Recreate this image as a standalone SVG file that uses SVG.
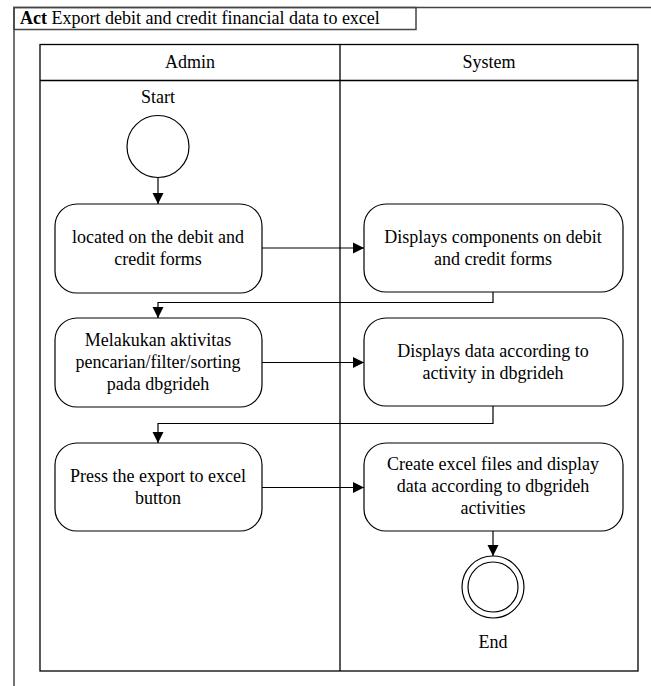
<svg xmlns="http://www.w3.org/2000/svg" width="651" height="686" viewBox="0 0 651 686" font-family="'Liberation Serif', 'Times New Roman', serif" font-size="18">
  <style>
    svg text, svg tspan { font-family: "Liberation Serif", "Times New Roman", serif; font-size: 18px; fill: #000; }
    .frame { fill: none; stroke: #444; stroke-width: 1.5; }
    .lane { fill: none; stroke: #000; stroke-width: 1.3; }
    .act { fill: #fff; stroke: #000; stroke-width: 1.2; }
    .flow { fill: none; stroke: #000; stroke-width: 1.2; marker-end: url(#arrow); }
  </style>
  <defs>
    <marker id="arrow" markerUnits="userSpaceOnUse" markerWidth="12" markerHeight="12" refX="11" refY="6" orient="auto">
      <path d="M0,0.5 L11,6 L0,11.5 Z" fill="#000"/>
    </marker>
  </defs>

  <rect width="651" height="686" fill="#fff"/>

  <!-- diagram frame with title tab -->
  <g id="frame">
    <path class="frame" d="M14,686 V7.5 H651"/>
    <rect class="frame" x="14" y="7.5" width="402" height="22"/>
    <text x="20" y="24" font-family="'Liberation Serif', serif"><tspan font-weight="bold">Act</tspan> Export debit and credit financial data to excel</text>
  </g>

  <!-- swimlanes -->
  <g id="lanes" text-anchor="middle" font-family="'Liberation Serif', serif">
    <rect class="lane" x="40" y="44.5" width="598" height="626.5"/>
    <line class="lane" x1="40" y1="80.5" x2="638" y2="80.5"/>
    <line class="lane" x1="340" y1="44.5" x2="340" y2="671"/>
    <text x="190" y="68">Admin</text>
    <text x="489" y="68">System</text>
  </g>

  <g id="start" text-anchor="middle" font-family="'Liberation Serif', serif">
    <text x="158" y="103">Start</text>
    <circle class="act" cx="158" cy="146.5" r="31"/>
  </g>

  <g id="act-located" text-anchor="middle" font-family="'Liberation Serif', serif">
    <rect class="act" x="55" y="204" width="207" height="89" rx="22"/>
    <text x="158" y="243">located on the debit and</text>
    <text x="158" y="265">credit forms</text>
  </g>

  <g id="act-display-components" text-anchor="middle" font-family="'Liberation Serif', serif">
    <rect class="act" x="364" y="204" width="259" height="88" rx="22"/>
    <text x="493" y="243">Displays components on debit</text>
    <text x="493" y="265">and credit forms</text>
  </g>

  <g id="act-search" text-anchor="middle" font-family="'Liberation Serif', serif">
    <rect class="act" x="55" y="318" width="207" height="89" rx="22"/>
    <text x="158" y="346">Melakukan aktivitas</text>
    <text x="158" y="368">pencarian/filter/sorting</text>
    <text x="158" y="390">pada dbgrideh</text>
  </g>

  <g id="act-display-data" text-anchor="middle" font-family="'Liberation Serif', serif">
    <rect class="act" x="364" y="318" width="259" height="88" rx="22"/>
    <text x="493" y="357">Displays data according to</text>
    <text x="493" y="379">activity in dbgrideh</text>
  </g>

  <g id="act-press-export" text-anchor="middle" font-family="'Liberation Serif', serif">
    <rect class="act" x="55" y="443" width="207" height="88" rx="22"/>
    <text x="158" y="482">Press the export to excel</text>
    <text x="158" y="504">button</text>
  </g>

  <g id="act-create-excel" text-anchor="middle" font-family="'Liberation Serif', serif">
    <rect class="act" x="364" y="443" width="259" height="88" rx="22"/>
    <text x="493" y="470">Create excel files and display</text>
    <text x="493" y="492">data according to dbgrideh</text>
    <text x="493" y="514">activities</text>
  </g>

  <g id="end" text-anchor="middle" font-family="'Liberation Serif', serif">
    <circle class="act" cx="493" cy="587" r="31"/>
    <circle class="act" cx="493" cy="587" r="25"/>
    <text x="493" y="648">End</text>
  </g>

  <!-- control flows -->
  <g id="connectors">
    <path class="flow" d="M158,177.5 V204"/>
    <path class="flow" d="M262,248 H364"/>
    <path class="flow" d="M493,292 V302.5 H158 V318"/>
    <path class="flow" d="M262,362.5 H364"/>
    <path class="flow" d="M493,406 V423.5 H158 V443"/>
    <path class="flow" d="M262,487.5 H364"/>
    <path class="flow" d="M493,531 V556"/>
  </g>
</svg>
